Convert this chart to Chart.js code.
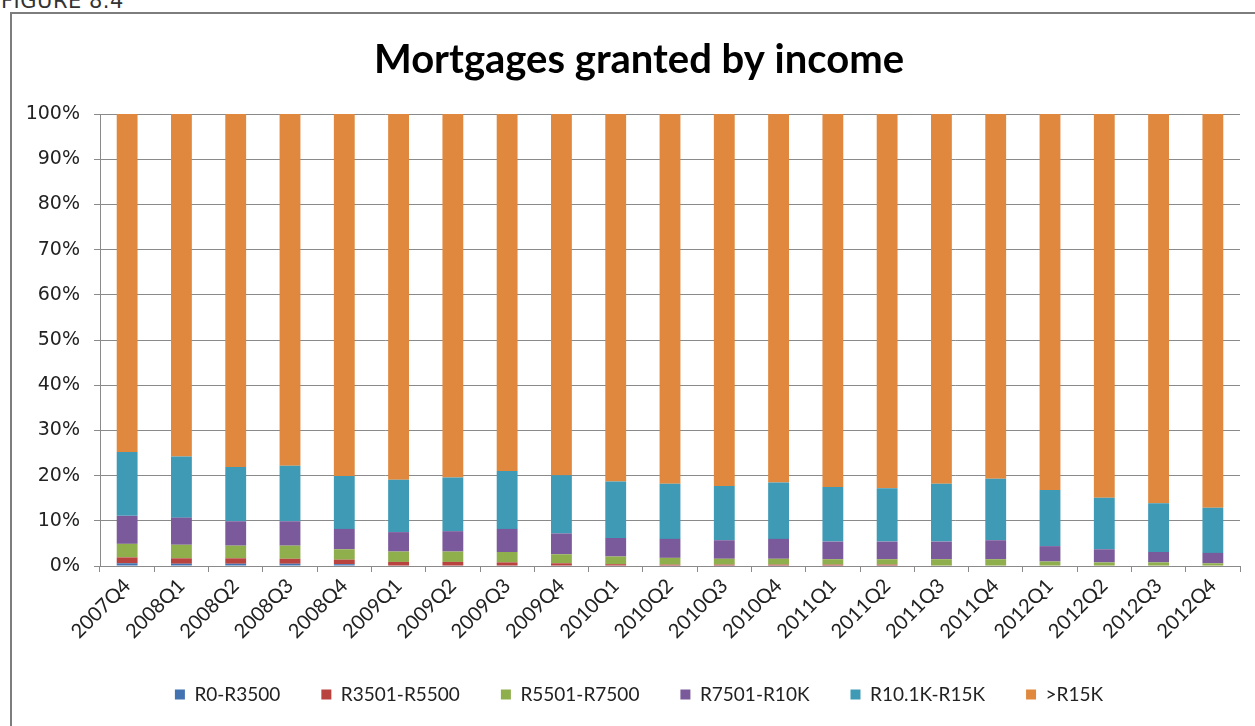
<!DOCTYPE html>
<html>
<head>
<meta charset="utf-8">
<title>Mortgages granted by income</title>
<script src="https://cdn.jsdelivr.net/npm/chart.js@4.4.0/dist/chart.umd.min.js"></script>
<style>
  html, body { margin: 0; padding: 0; background: #fff; overflow: hidden; }
  #page { position: relative; width: 1255px; height: 726px; overflow: hidden; }
  #caption {
    position: absolute; left: 1px; top: -11px;
    font: 21px "DejaVu Sans", sans-serif; color: #333; letter-spacing: 0.5px;
  }
  #frame {
    position: absolute; left: 10px; top: 12px; width: 1270px; height: 740px;
    border: 2px solid #7d7d7d; box-sizing: border-box;
  }
  /* canvas runs a little past the right edge so title and legend centre on the plot */
  #wrap { position: absolute; left: 0; top: 0; width: 1281px; height: 726px; }
</style>
</head>
<body>
<div id="page">
  <div id="caption">FIGURE 8.4</div>
  <div id="frame"></div>
  <div id="wrap"><canvas id="mortgageChart"></canvas></div>
</div>
<script>
const quarters = ['2007Q4', '2008Q1', '2008Q2', '2008Q3', '2008Q4', '2009Q1', '2009Q2',
    '2009Q3', '2009Q4', '2010Q1', '2010Q2', '2010Q3', '2010Q4', '2011Q1', '2011Q2',
    '2011Q3', '2011Q4', '2012Q1', '2012Q2', '2012Q3', '2012Q4'];

// share of mortgages (%) per income band
const r0to3500 = [0.6, 0.5, 0.5, 0.5, 0.4, 0.1, 0.1, 0.1, 0.1, 0.1, 0.1, 0.1, 0.1, 0.1, 0.1, 0.0, 0.0, 0.0, 0.0, 0.0, 0.0];
const r3501to5500 = [1.3, 1.2, 1.2, 1.1, 1.0, 0.8, 0.8, 0.7, 0.5, 0.3, 0.2, 0.2, 0.2, 0.2, 0.2, 0.1, 0.1, 0.1, 0.1, 0.1, 0.1];
const r5501to7500 = [3.0, 3.0, 2.8, 2.9, 2.3, 2.3, 2.3, 2.3, 2.0, 1.7, 1.5, 1.3, 1.3, 1.2, 1.2, 1.4, 1.4, 0.9, 0.7, 0.7, 0.5];
const r7501to10k = [6.2, 6.0, 5.4, 5.4, 4.5, 4.3, 4.5, 5.1, 4.6, 4.1, 4.2, 4.1, 4.4, 3.9, 3.9, 3.9, 4.2, 3.4, 2.9, 2.3, 2.3];
const r10kto15k = [14.1, 13.5, 12.0, 12.3, 11.7, 11.6, 11.9, 12.8, 12.9, 12.5, 12.2, 12.0, 12.5, 12.1, 11.8, 12.8, 13.6, 12.4, 11.4, 10.8, 10.0];
const over15k = [74.8, 75.8, 78.1, 77.8, 80.1, 80.9, 80.4, 79.0, 79.9, 81.3, 81.8, 82.3, 81.5, 82.5, 82.8, 81.8, 80.7, 83.2, 84.9, 86.1, 87.1];

const yTicks = [0, 10, 20, 30, 40, 50, 60, 70, 80, 90, 100];

const series = [
    { label: 'R0-R3500', data: r0to3500, color: '#4272b0' },
    { label: 'R3501-R5500', data: r3501to5500, color: '#b9433f' },
    { label: 'R5501-R7500', data: r5501to7500, color: '#8fae4c' },
    { label: 'R7501-R10K', data: r7501to10k, color: '#7a5a9a' },
    { label: 'R10.1K-R15K', data: r10kto15k, color: '#3f9ab5' },
    { label: '>R15K', data: over15k, color: '#e0883e' }
];

const gridGrey = '#8a8a8a';

const ctx = document.getElementById('mortgageChart').getContext('2d');
new Chart(ctx, {
    type: 'bar',
    data: {
        labels: quarters,
        datasets: series.map(s => ({
            label: s.label,
            data: s.data,
            backgroundColor: s.color,
            borderWidth: 0,
            barPercentage: 0.8,
            categoryPercentage: 0.48
        }))
    },
    options: {
        responsive: true,
        maintainAspectRatio: false,
        animation: false,
        layout: { padding: { left: 12, right: 15, top: 0, bottom: 12 } },
        plugins: {
            title: {
                display: true,
                text: 'Mortgages granted by income',
                color: '#000',
                font: { family: 'Lato', size: 40, weight: 'bold' },
                padding: { top: 36, bottom: 30 }
            },
            legend: {
                position: 'bottom',
                labels: {
                    color: '#222',
                    font: { family: 'Lato', size: 19 },
                    boxWidth: 10,
                    boxHeight: 10,
                    padding: 41
                }
            },
            tooltip: { enabled: false }
        },
        scales: {
            x: {
                stacked: true,
                grid: {
                    display: true,
                    drawOnChartArea: false,
                    drawTicks: true,
                    tickLength: 6,
                    color: gridGrey
                },
                border: { display: true, color: gridGrey, width: 1 },
                ticks: {
                    color: '#222',
                    font: { family: 'Lato', size: 20 },
                    maxRotation: 45,
                    minRotation: 45,
                    autoSkip: false,
                    padding: 2
                },
                afterFit: scale => { scale.height = 78; }
            },
            y: {
                stacked: true,
                min: 0,
                max: 100,
                afterBuildTicks: scale => {
                    scale.ticks = yTicks.map(v => ({ value: v }));
                },
                grid: {
                    color: gridGrey,
                    tickLength: 6,
                    drawTicks: true
                },
                border: { display: true, color: gridGrey, width: 1 },
                ticks: {
                    color: '#222',
                    font: { family: 'DejaVu Sans', size: 19 },
                    padding: 14,
                    callback: v => v + '%'
                },
                afterFit: scale => { scale.width = 88; }
            },
            // empty right-hand strip that ends the plot at the window edge minus margin
            spacer: {
                type: 'linear',
                position: 'right',
                display: true,
                grid: { display: false },
                border: { display: false },
                ticks: { display: false },
                afterFit: scale => { scale.width = 26; }
            }
        }
    }
});
</script>
</body>
</html>
